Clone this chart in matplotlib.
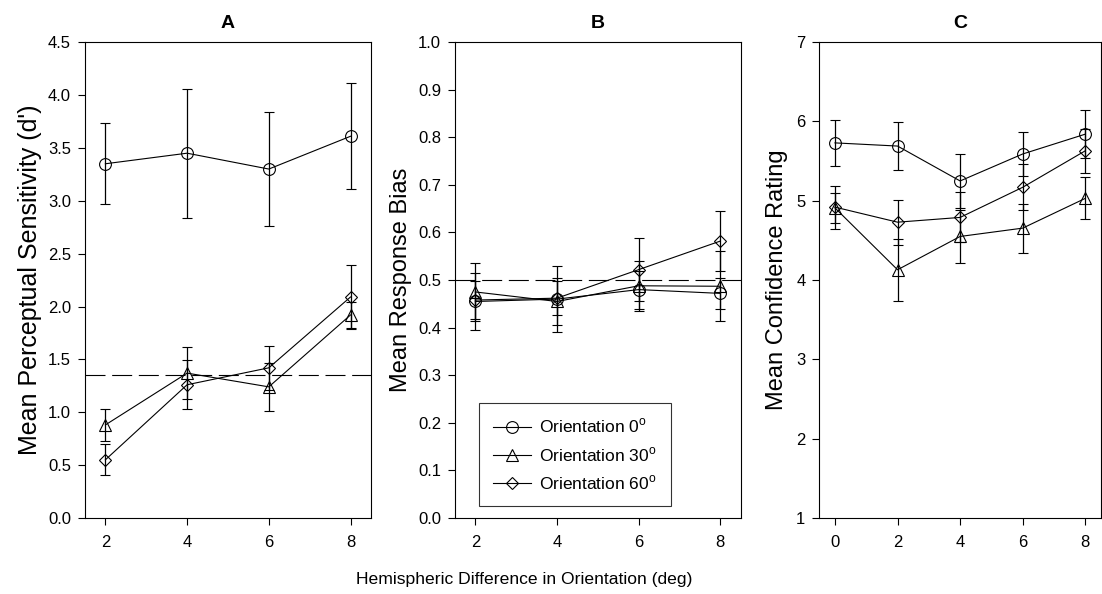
import numpy as np
import matplotlib
matplotlib.use("Agg")
import matplotlib.pyplot as plt
from matplotlib.lines import Line2D

plt.rcParams["font.family"] = ["Liberation Sans", "DejaVu Sans"]
plt.rcParams["mathtext.fontset"] = "custom"
plt.rcParams["mathtext.rm"] = "Liberation Sans"

# panel A: perceptual sensitivity (d')
xA = [2, 4, 6, 8]
dprime_0 = [3.35, 3.45, 3.30, 3.61]
dprime_0_err = [0.385, 0.61, 0.54, 0.50]
dprime_30 = [0.88, 1.37, 1.24, 1.92]
dprime_30_err = [0.155, 0.245, 0.227, 0.125]
dprime_60 = [0.55, 1.26, 1.42, 2.09]
dprime_60_err = [0.147, 0.23, 0.21, 0.30]
dprime_ref = 1.35

# panel B: response bias
xB = [2, 4, 6, 8]
bias_0 = [0.455, 0.46, 0.48, 0.472]
bias_0_err = [0.06, 0.07, 0.04, 0.032]
bias_30 = [0.475, 0.455, 0.488, 0.487]
bias_30_err = [0.06, 0.05, 0.053, 0.074]
bias_60 = [0.458, 0.462, 0.522, 0.582]
bias_60_err = [0.04, 0.035, 0.067, 0.063]
bias_ref = 0.5

# panel C: confidence rating
xC = [0, 2, 4, 6, 8]
conf_0 = [5.73, 5.69, 5.25, 5.59, 5.84]
conf_0_err = [0.29, 0.305, 0.34, 0.28, 0.30]
conf_30 = [4.91, 4.13, 4.55, 4.655, 5.03]
conf_30_err = [0.19, 0.39, 0.335, 0.31, 0.265]
conf_60 = [4.92, 4.73, 4.79, 5.17, 5.63]
conf_60_err = [0.27, 0.286, 0.315, 0.29, 0.28]

labels = ["Orientation 0$^\\mathregular{o}$",
          "Orientation 30$^\\mathregular{o}$",
          "Orientation 60$^\\mathregular{o}$"]
markers = ["o", "^", "D"]
msizes = [8.5, 8.5, 6.5]

fig = plt.figure(figsize=(11.02, 5.94), dpi=100)
bottom, height = 0.128, 0.801
axA = fig.add_axes([0.0771, bottom, 0.2595, height])
axB = fig.add_axes([0.4129, bottom, 0.2593, height])
axC = fig.add_axes([0.7435, bottom, 0.2555, height])

dash = (0, (18, 6))


def draw(ax, x, series):
    for (y, err), m, ms in zip(series, markers, msizes):
        ax.errorbar(x, y, yerr=err, color="black", lw=0.8, elinewidth=0.9,
                    capsize=3.6, capthick=0.9, marker=m, markersize=ms,
                    mfc="none", mec="black", mew=0.8)
    ax.tick_params(direction="out", length=5, width=0.8, labelsize=12,
                   colors="black")
    ax.tick_params(axis="x", pad=7)
    ax.tick_params(axis="y", pad=5)
    for s in ax.spines.values():
        s.set_linewidth(0.8)


draw(axA, xA, [(dprime_0, dprime_0_err), (dprime_30, dprime_30_err),
               (dprime_60, dprime_60_err)])
axA.axhline(dprime_ref, color="black", lw=0.8, ls=dash)
axA.set_xlim(1.5, 8.5)
axA.set_ylim(0, 4.5)
axA.set_xticks([2, 4, 6, 8])
axA.set_yticks(np.arange(0, 4.51, 0.5))
axA.set_yticklabels([f"{v:.1f}" for v in np.arange(0, 4.51, 0.5)])
axA.set_ylabel("Mean Perceptual Sensitivity (d')", fontsize=18, labelpad=4)
axA.set_title("A", fontsize=14, fontweight="bold", pad=10)

draw(axB, xB, [(bias_0, bias_0_err), (bias_30, bias_30_err),
               (bias_60, bias_60_err)])
axB.axhline(bias_ref, color="black", lw=0.8, ls=dash)
axB.set_xlim(1.5, 8.5)
axB.set_ylim(0, 1.0)
axB.set_xticks([2, 4, 6, 8])
axB.set_yticks(np.arange(0, 1.01, 0.1))
axB.set_yticklabels([f"{v:.1f}" for v in np.arange(0, 1.01, 0.1)])
axB.set_ylabel("Mean Response Bias", fontsize=17, labelpad=4)
axB.set_title("B", fontsize=14, fontweight="bold", pad=10)

handles = [Line2D([], [], color="black", lw=0.8, marker=m, markersize=ms,
                  mfc="none", mec="black", mew=0.8)
           for m, ms in zip(markers, msizes)]
leg = axB.legend(handles, labels, loc="lower left",
                 bbox_to_anchor=(0.085, 0.025), fontsize=12.5,
                 frameon=True, fancybox=False, edgecolor="black",
                 handlelength=2.2, handletextpad=0.45, borderpad=0.8,
                 labelspacing=0.55, borderaxespad=0)
leg.get_frame().set_linewidth(0.8)

draw(axC, xC, [(conf_0, conf_0_err), (conf_30, conf_30_err),
               (conf_60, conf_60_err)])
axC.set_xlim(-0.5, 8.5)
axC.set_ylim(1, 7)
axC.set_xticks([0, 2, 4, 6, 8])
axC.set_yticks([1, 2, 3, 4, 5, 6, 7])
axC.set_ylabel("Mean Confidence Rating", fontsize=17, labelpad=6)
axC.set_title("C", fontsize=14, fontweight="bold", pad=10)

fig.text(0.4755, 0.012, "Hemispheric Difference in Orientation (deg)",
         ha="center", va="bottom", fontsize=12.6)

fig.savefig("out.png", dpi=100)
